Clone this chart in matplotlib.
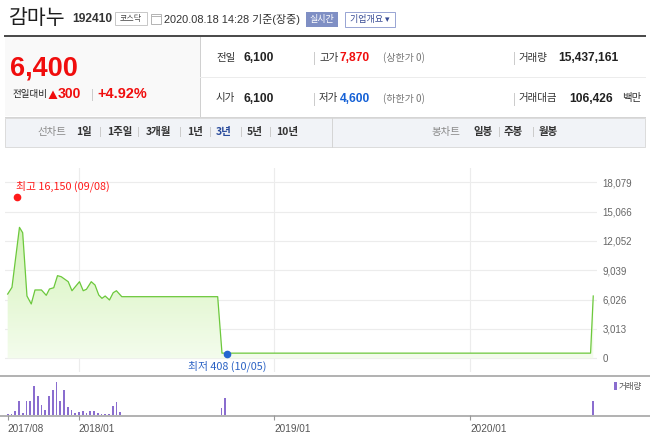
import matplotlib
matplotlib.use("Agg")
import matplotlib.pyplot as plt
import matplotlib.dates as mdates
import matplotlib.transforms as mtransforms
from matplotlib.lines import Line2D
from matplotlib.patches import Rectangle, Polygon
from matplotlib.colors import LinearSegmentedColormap
import numpy as np
import pandas as pd

plt.rcParams['font.family'] = ['Noto Sans CJK KR', 'DejaVu Sans']

# price line (weekly closes)
price_dates = ['2017-08-21', '2017-08-29', '2017-09-12', '2017-09-18', '2017-09-26',
               '2017-10-04', '2017-10-11', '2017-10-23', '2017-11-01', '2017-11-07',
               '2017-11-15', '2017-11-22', '2017-11-29', '2017-12-12', '2017-12-19',
               '2018-01-02', '2018-01-09', '2018-01-15', '2018-01-24', '2018-01-31',
               '2018-02-07', '2018-02-13', '2018-02-19', '2018-02-27', '2018-03-06',
               '2018-03-12', '2018-03-22', '2018-09-17', '2018-09-25', '2020-08-13',
               '2020-08-18']
price_close = [6600, 7290, 13450, 12900, 6400, 5580, 7020, 7020, 6470, 7120,
               7250, 8490, 8380, 7870, 6940, 7870, 6940, 7090, 7870, 7530,
               6500, 6160, 6400, 5990, 6740, 6940, 6330, 6330, 530, 530,
               6400]

# weekly volume (million shares)
vol_dates = ['2017-08-21', '2017-08-28', '2017-09-04', '2017-09-11', '2017-09-18',
             '2017-09-25', '2017-10-02', '2017-10-09', '2017-10-16', '2017-10-23',
             '2017-10-30', '2017-11-06', '2017-11-13', '2017-11-20', '2017-11-27',
             '2017-12-04', '2017-12-11', '2017-12-18', '2017-12-25', '2018-01-01',
             '2018-01-08', '2018-01-15', '2018-01-22', '2018-01-29', '2018-02-05',
             '2018-02-12', '2018-02-19', '2018-02-26', '2018-03-05', '2018-03-12',
             '2018-03-19', '2018-09-24', '2018-10-01', '2020-08-17']
vol_values = [1.1, 1.5, 4.8, 16.1, 2.9, 15.4, 15.4, 32.6, 21.3, 11.0,
              5.9, 21.3, 27.5, 36.7, 16.1, 27.9, 9.5, 6.2, 2.2, 3.7,
              4.4, 2.9, 4.4, 4.4, 2.9, 1.1, 1.5, 1.1, 10.3, 15.0,
              3.7, 8.0, 19.0, 15.4]

y_ticks = [0, 3013, 6026, 9039, 12052, 15066, 18079]
grid_dates = ['2018-01-01', '2019-01-01', '2020-01-01']
x_tick_dates = ['2017-08-21', '2018-01-01', '2019-01-01', '2020-01-01']
x_tick_labels = ['2017/08', '2018/01', '2019/01', '2020/01']

high_date, high_value, high_label = '2017-09-08', 16150, '최고 16,150 (09/08)'
low_date, low_value, low_label = '2018-10-05', 408, '최저 408 (10/05)'

W, H = 650, 438
fig = plt.figure(figsize=(6.5, 4.38), dpi=100)
fig.patch.set_facecolor('white')


def fx(x):
    return x / W


def fy(y):
    return 1 - y / H


def pt(px):
    return px * 0.72


def text(x, y, s, size, color='#333333', weight='normal', ha='left', va='center', family=None):
    kw = {}
    if family is not None:
        kw['family'] = family
    fig.text(fx(x), fy(y), s, fontsize=pt(size), color=color, weight=weight,
             ha=ha, va=va, **kw)


def line(x0, y0, x1, y1, color, lw=1.0):
    fig.add_artist(Line2D([fx(x0), fx(x1)], [fy(y0), fy(y1)], color=color,
                          lw=pt(lw), transform=fig.transFigure))


def rect(x0, y0, x1, y1, fc, ec='none', lw=1.0):
    fig.add_artist(Rectangle((fx(x0), fy(y1)), fx(x1) - fx(x0), fy(y0) - fy(y1),
                             facecolor=fc, edgecolor=ec, lw=pt(lw),
                             transform=fig.transFigure))


NUM = ['Liberation Sans', 'Noto Sans CJK KR']
RED = '#f00d0d'
BLUE = '#1561d6'

# ---- header ----
text(9, 18, '감마누', 20.5, color='#1e1e1e')
text(72, 19.5, '192410', 12, color='#333333', weight='bold', family=NUM)
rect(115, 12, 147, 25, 'white', '#c8c8c8')
text(131, 18.5, '코스닥', 8, color='#444444', ha='center')
rect(151, 14, 161, 24, 'white', '#b5b5b5')
line(151, 16, 161, 16, '#b5b5b5')
text(164, 19.5, '2020.08.18 14:28 기준(장중)', 11, color='#333333', family=NUM)
rect(306, 12, 338, 27, '#7f8fc4')
text(322, 19.5, '실시간', 9, color='white', ha='center')
rect(345, 12, 395, 27, 'white', '#9aa6d4')
text(370, 19.5, '기업개요 ▾', 9, color='#364a94', ha='center',
     family=['Noto Sans CJK KR', 'DejaVu Sans'])

# ---- info box ----
line(5, 35.5, 645, 35.5, '#4c4c4c', 2)
rect(5, 36.5, 200, 116, '#f9f9f9')
line(200, 36.5, 200, 116, '#d0d0d0')
line(200, 77, 645, 77, '#ececec')
line(5, 116.5, 645, 116.5, '#d5d5d5')

text(10, 68, '6,400', 27, color=RED, weight='bold', family=NUM)
text(12, 94.5, '전일대비', 9.5, color='#222222')
fig.add_artist(Polygon([(fx(48.5), fy(99)), (fx(57.5), fy(99)), (fx(53), fy(90.5))],
                       closed=True, facecolor=RED, edgecolor='none',
                       transform=fig.transFigure))
text(58, 94.5, '300', 14, color=RED, weight='bold', family=NUM)
line(92, 89, 92, 100, '#cccccc')
text(97, 94.5, '+4.92%', 14.5, color=RED, weight='bold', family=NUM)

rows = [
    (58, '전일', '6,100', '#222222', '고가', '7,870', RED, '(상한가 0)', '거래량', '15,437,161', ''),
    (98.5, '시가', '6,100', '#222222', '저가', '4,600', BLUE, '(하한가 0)', '거래대금', '106,426', '백만'),
]
for y, l1, v1, c1, l2, v2, c2, note, l3, v3, unit in rows:
    text(216, y, l1, 10.5, color='#333333')
    text(244, y, v1, 12, color=c1, weight='bold', family=NUM)
    line(314, y - 6, 314, y + 6, '#cccccc')
    text(319, y, l2, 10.5, color='#333333')
    text(340, y, v2, 12, color=c2, weight='bold', family=NUM)
    text(383, y, note, 10, color='#777777')
    line(514, y - 6, 514, y + 6, '#cccccc')
    text(518, y, l3, 10.5, color='#333333')
    if unit:
        text(569, y, v3, 12, color='#222222', weight='bold', family=NUM)
        text(622, y, unit, 10.5, color='#333333')
    else:
        text(558, y, v3, 12, color='#222222', weight='bold', family=NUM)

# ---- tab bar ----
rect(5, 117.5, 645, 147, '#f1f3f7', '#dcdcdc')
line(332, 118, 332, 146.5, '#d5d5d5')
text(37, 131.5, '선차트', 10.5, color='#8a8a8a')
tabs_left = [(76, '1일'), (107, '1주일'), (146, '3개월'), (187, '1년'),
             (216, '3년'), (247, '5년'), (276, '10년')]
for x, s in tabs_left:
    text(x, 131.5, s, 10.5, color='#2a4b9b' if s == '3년' else '#333333', weight='bold')
for x in [100, 137.5, 179.5, 210, 241, 270]:
    line(x, 127, x, 136, '#cccccc')
text(432, 131.5, '봉차트', 10.5, color='#8a8a8a')
for x, s in [(473, '일봉'), (504, '주봉'), (539, '월봉')]:
    text(x, 131.5, s, 10.5, color='#333333', weight='bold')
for x in [498.5, 532.5]:
    line(x, 127, x, 136, '#cccccc')

# ---- price chart ----
pd_dates = pd.to_datetime(price_dates)
vd_dates = pd.to_datetime(vol_dates)
xmin = mdates.date2num(pd.Timestamp('2017-08-16'))
xmax = mdates.date2num(pd.Timestamp('2020-08-25'))
ylo, yhi = -1407, 19548

ax = fig.add_axes([fx(5), fy(372), fx(597) - fx(5), fy(168) - fy(372)])
ax.set_facecolor('none')
for s in ax.spines.values():
    s.set_visible(False)

poly = ax.fill_between(pd_dates, price_close, 0, facecolor='none', edgecolor='none')
cmap = LinearSegmentedColormap.from_list('g', ['#f7fdf2', '#c6efa2'])
grad = np.linspace(0, 1, 256).reshape(-1, 1)
im = ax.imshow(grad, cmap=cmap, aspect='auto', origin='lower',
               extent=[xmin, xmax, ylo, yhi], zorder=1)
im.set_clip_path(poly.get_paths()[0], transform=ax.transData)
ax.plot(pd_dates, price_close, color='#6cc83c', lw=0.9, zorder=3)

ax.set_xlim(xmin, xmax)
ax.set_ylim(ylo, yhi)
ax.set_yticks(y_ticks)
ax.set_yticklabels([f'{v:,}' for v in y_ticks])
ax.set_xticks(pd.to_datetime(grid_dates))
ax.tick_params(axis='x', length=0, labelbottom=False)
ax.yaxis.tick_right()
ax.tick_params(axis='y', length=0, pad=4, labelsize=7, labelcolor='#666666')
for lab in ax.get_yticklabels():
    lab.set_family('Liberation Sans')
ax.grid(True, color='#ececec', lw=0.8, zorder=0)
ax.set_axisbelow(True)

hi_tr = mtransforms.offset_copy(ax.transData, fig=fig, x=0, y=4, units='dots')
ax.plot(pd.Timestamp(high_date), high_value, 'o', color='#ff1a1a', ms=4.5,
        transform=hi_tr, zorder=4, clip_on=False)
ax.annotate(high_label, (pd.Timestamp(high_date), high_value), xytext=(-1, 11),
            textcoords='offset points', color='#ff1a1a', fontsize=7.8,
            ha='left', va='center', annotation_clip=False)
ax.plot(pd.Timestamp(low_date), low_value, 'o', color='#2565d0', ms=4.5,
        zorder=4, clip_on=False)
ax.annotate(low_label, (pd.Timestamp(low_date), low_value), xytext=(0, -8.5),
            textcoords='offset points', color='#2b62c4', fontsize=7.8,
            ha='center', va='center', annotation_clip=False)

# ---- volume chart ----
line(0, 376, 650, 376, '#9a9a9a', 1.5)
vax = fig.add_axes([fx(5), fy(415.3), fx(597) - fx(5), fy(377) - fy(415.3)])
vax.set_facecolor('none')
for s in vax.spines.values():
    s.set_visible(False)
vax.bar(vd_dates, vol_values, width=3.4, color='#8a6dcf', align='center')
vax.set_xlim(xmin, xmax)
vax.set_ylim(0, 42.1)
vax.set_yticks([])
vax.set_xticks(pd.to_datetime(x_tick_dates))
vax.set_xticklabels(x_tick_labels)
vax.tick_params(axis='x', length=3.5, width=0.8, color='#999999', pad=2.5,
                labelsize=7.2, labelcolor='#555555')
for lab in vax.get_xticklabels():
    lab.set_ha('left')
    lab.set_family('Liberation Sans')
line(0, 415.5, 650, 415.5, '#9a9a9a', 1.5)

rect(614, 382, 616.5, 390, '#8a6dcf')
text(619, 386, '거래량', 8.5, color='#555555')

fig.savefig('out.png', dpi=100, facecolor='white')
